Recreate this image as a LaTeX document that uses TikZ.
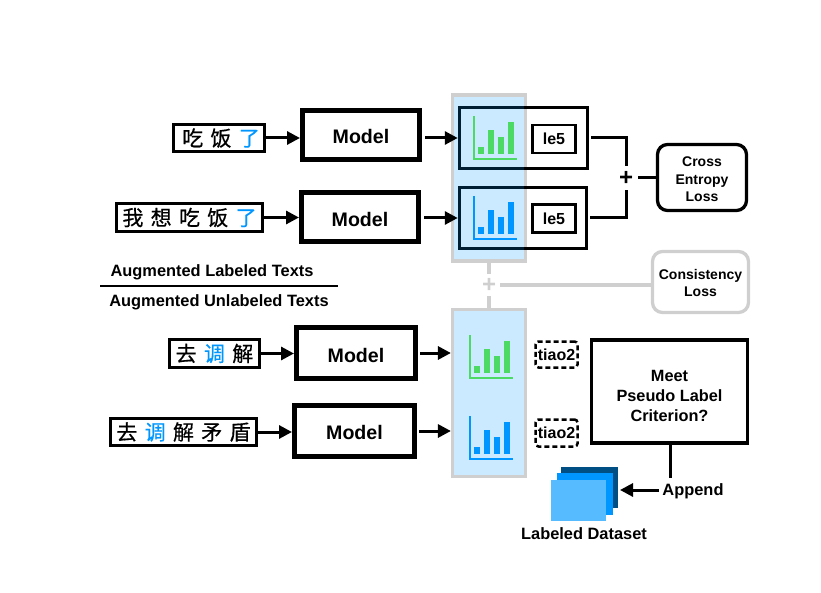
\documentclass[tikz,border=0pt]{standalone}
\usepackage{fontspec}
\setmainfont{Liberation Sans}
\newfontfamily\cjk[FakeBold=0.6]{Noto Sans CJK SC}
\usetikzlibrary{arrows.meta}
\definecolor{tonegreen}{HTML}{4CD964}
\definecolor{toneblue}{HTML}{0096FF}
\definecolor{lightblue}{HTML}{56BBFF}
\definecolor{darkblue}{HTML}{004F84}
\definecolor{softgray}{HTML}{CFCFCF}
\newcommand{\tone}[1]{\textcolor{toneblue}{#1}}
\newcommand{\gap}{\hspace{7.3pt}}
\newcommand{\drawchart}[3]{
  \begin{scope}[shift={(#1,#2)}]
    \draw[#3,line width=1.6pt] (0,-43) -- (0,0) -- (43,0);
    \foreach \x/\h in {4/7,14/24,24/17,34/32} {
      \fill[#3] (\x,-5) rectangle ++(6,-\h);
    }
  \end{scope}
}
\tikzset{
  textbox/.style={draw,line width=2.7pt,inner sep=0pt,font=\cjk\fontsize{21}{24}\selectfont},
  modelbox/.style={draw,line width=5pt,inner sep=0pt,font=\bfseries\fontsize{19.6}{22}\selectfont},
  outbox/.style={draw,line width=3.5pt,inner sep=0pt},
  smallbox/.style={draw,line width=2.7pt,inner sep=0pt,font=\bfseries\fontsize{16}{17}\selectfont},
  dashbox/.style={draw,dash pattern=on 5pt off 3pt,line width=2.5pt,rounded corners=3pt,inner sep=0pt,font=\bfseries\fontsize{16}{17}\selectfont},
  panel/.style={draw=softgray,line width=3.2pt,inner sep=0pt},
  lossbox/.style={line width=3.3pt,rounded corners=10pt,inner sep=0pt,align=center,font=\bfseries\fontsize{14}{17.5}\selectfont},
  label/.style={font=\bfseries\fontsize{16.4}{18}\selectfont},
  link/.style={line width=3pt},
  flow/.style={link,-{Triangle[length=13pt,width=13pt]}},
  softlink/.style={draw=softgray,line width=3.3pt},
}
\begin{document}
\begin{tikzpicture}[x=1pt,y=-1pt]
  \useasboundingbox (0,0) rectangle (821,593);

  % Panels behind the outputs
  \node[panel,minimum width=73pt,minimum height=166pt] (panelA) at (489,178) {};
  \node[panel,minimum width=73pt,minimum height=167pt,fill=toneblue!20] (panelB) at (489,393) {};

  % Input texts
  \node[textbox,minimum width=91pt,minimum height=27.5pt] (txtA) at (219,138) {\hspace{4pt}吃\gap 饭\gap\tone{了}};
  \node[textbox,minimum width=146pt,minimum height=28.5pt] (txtB) at (189.5,217.5) {我\gap 想\gap 吃\gap 饭\gap\tone{了}};
  \node[textbox,minimum width=90pt,minimum height=28pt] (txtC) at (214.5,353.5) {去\gap\tone{调}\gap 解};
  \node[textbox,minimum width=146pt,minimum height=27.5pt] (txtD) at (183.5,432) {去\gap\tone{调}\gap 解\gap 矛\gap 盾};

  % Models
  \node[modelbox,minimum width=117pt,minimum height=49pt] (modelA) at (361,135) {\rule{0pt}{16.5pt}Model};
  \node[modelbox,minimum width=117pt,minimum height=49pt] (modelB) at (360,217) {\rule{0pt}{19.5pt}Model};
  \node[modelbox,minimum width=119pt,minimum height=51pt] (modelC) at (356,353) {\rule{0pt}{19.5pt}Model};
  \node[modelbox,minimum width=120pt,minimum height=51pt] (modelD) at (354.5,431) {\rule{0pt}{16.5pt}Model};

  % Outputs of the labeled texts
  \node[outbox,minimum width=128pt,minimum height=61pt] (outA) at (523.5,138) {};
  \node[outbox,minimum width=127pt,minimum height=61pt] (outB) at (523,218) {};
  \node[smallbox,minimum width=43pt,minimum height=28pt] (leA) at (554,139) {le5};
  \node[smallbox,minimum width=43pt,minimum height=28pt] (leB) at (554,218.5) {le5};

  % Tint over the upper panel, inside its border
  \fill[toneblue,opacity=0.2] ([shift={(3.2pt,3.2pt)}]panelA.south west) rectangle ([shift={(-3.2pt,-3.2pt)}]panelA.north east);

  % Charts
  \drawchart{474}{159}{tonegreen}
  \drawchart{474}{239}{toneblue}
  \drawchart{470}{378}{tonegreen}
  \drawchart{470}{459}{toneblue}

  % Pseudo labels and the criterion
  \node[dashbox,minimum width=42pt,minimum height=26pt] (tiaoA) at (556.5,354.5) {tiao2};
  \node[dashbox,minimum width=42pt,minimum height=27pt] (tiaoB) at (556.5,433) {tiao2};
  \node[outbox,minimum width=156pt,minimum height=103pt,align=center,font=\bfseries\fontsize{16.3}{20}\selectfont] (meet) at (669.5,391.5) {\rule{0pt}{21pt}Meet\\Pseudo Label\\Criterion?};

  % Losses
  \node[lossbox,draw,minimum width=89pt,minimum height=66pt] (crossLoss) at (702,177.5) {\rule{0pt}{14pt}Cross\\Entropy\\Loss};
  \node[lossbox,draw=softgray,minimum width=96pt,minimum height=61pt] (consLoss) at (700.5,282) {\rule{0pt}{12pt}Consistency\\Loss};
  \node[inner sep=0pt,minimum size=24pt,font=\bfseries\fontsize{24}{24}\selectfont] (plusA) at (626,178) {+};
  \node[inner sep=0pt,minimum size=22pt,text=softgray,font=\bfseries\fontsize{24}{24}\selectfont] (plusB) at (489,285) {+};

  % Arrows
  \foreach \a/\b in {txtA/modelA,txtB/modelB,txtC/modelC,txtD/modelD} {
    \draw[flow] (\a.east) -- (\a.east -| \b.west);
  }
  \draw[flow,shorten <=3pt] (modelA.east |- outA.west) -- (outA.west);
  \draw[flow,shorten <=3pt] (modelB.east |- outB.west) -- (outB.west);
  \draw[flow,shorten <=2pt] (modelC.east) -- (panelB.west |- modelC.east);
  \draw[flow,shorten <=2pt] (modelD.east) -- (panelB.west |- modelD.east);

  % Sum of the two outputs
  \draw[link,shorten <=2pt] (outA.east) -| (plusA.north);
  \draw[link,shorten <=2pt] (outB.east) -| (plusA.south);
  \draw[link] (plusA.east) -- (plusA.east -| crossLoss.west);

  % Consistency branch
  \draw[softlink] (panelA.south) -- (plusB.north);
  \draw[softlink] (plusB.south) -- (panelB.north);
  \draw[softlink] (plusB.east) -- (plusB.east -| consLoss.west);

  % Divider
  \node[label] (upperLabel) at (212,272.5) {Augmented Labeled Texts};
  \node[label] (lowerLabel) at (219,302.5) {Augmented Unlabeled Texts};
  \coordinate (ruleL) at (100,286);
  \coordinate (ruleR) at (338,286);
  \draw[line width=1.2pt] (ruleL) -- (ruleR);

  % Labeled dataset
  \fill[darkblue] (561,467) rectangle (618,508);
  \fill[toneblue] (557,473) rectangle (613,515);
  \fill[lightblue] (551,480) rectangle (606,521);
  \coordinate (stackR) at (620,490);
  \coordinate (appendTop) at (670,478);
  \node[label] (append) at (693,491.5) {Append};
  \node[label] (dataset) at (584,534) {Labeled Dataset};
  \draw[link] (meet.south -| appendTop) -- (appendTop);
  \draw[flow] (append.west |- stackR) -- (stackR);
\end{tikzpicture}
\end{document}
